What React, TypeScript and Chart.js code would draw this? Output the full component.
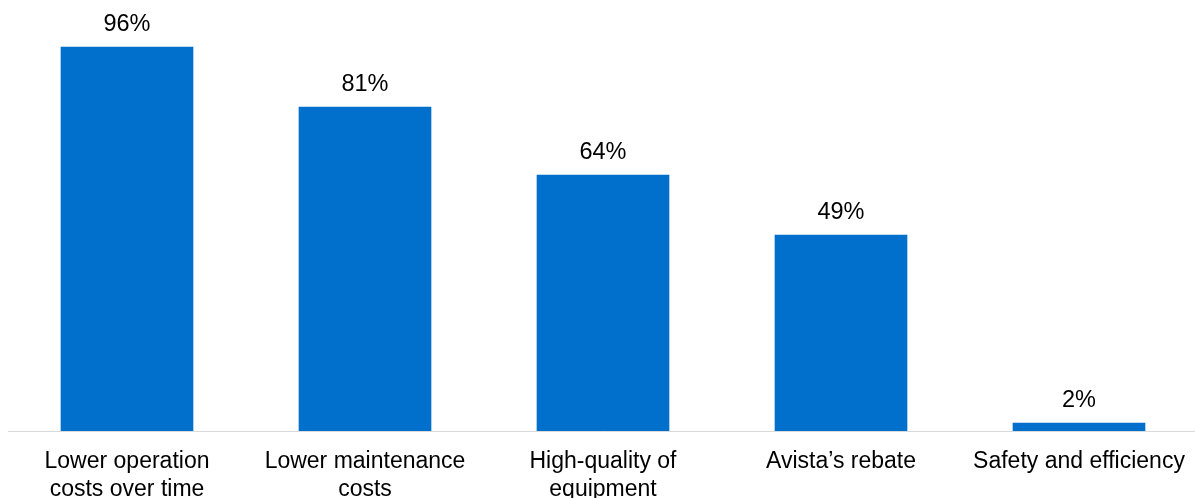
import React, { useEffect, useRef } from "react";
import { Chart, registerables } from "chart.js";

Chart.register(...registerables);

const categories: string[][] = [
  ["Lower operation", "costs over time"],
  ["Lower maintenance", "costs"],
  ["High-quality of", "equipment"],
  ["Avista\u2019s rebate"],
  ["Safety and efficiency"],
];
const shares: number[] = [96, 81, 64, 49, 2];

const BAR_BLUE = "#0070CC";
const FONT = "'Liberation Sans', Arial, sans-serif";

// Writes each bar's percentage just above its top edge.
const valueLabels = {
  id: "valueLabels",
  afterDatasetsDraw(chart: any) {
    const { ctx } = chart;
    const meta = chart.getDatasetMeta(0);
    ctx.save();
    ctx.font = `23.5px ${FONT}`;
    ctx.fillStyle = "#000";
    ctx.textAlign = "center";
    ctx.textBaseline = "alphabetic";
    meta.data.forEach((bar: any, i: number) => {
      ctx.fillText(`${shares[i]}%`, bar.x, bar.y - 16);
    });
    ctx.restore();
  },
};

export default function App() {
  const canvasRef = useRef<HTMLCanvasElement | null>(null);

  useEffect(() => {
    const canvas = canvasRef.current;
    if (!canvas) return;
    const chart = new Chart(canvas, {
      type: "bar",
      data: {
        labels: categories,
        datasets: [
          {
            data: shares,
            backgroundColor: BAR_BLUE,
            borderWidth: 0,
            barThickness: 132,
          },
        ],
      },
      options: {
        animation: false,
        responsive: false,
        maintainAspectRatio: false,
        layout: { padding: { top: 31, left: 8, right: 0, bottom: 0 } },
        plugins: {
          legend: { display: false },
          tooltip: { enabled: false },
        },
        scales: {
          x: {
            grid: { display: false, drawTicks: false },
            border: { display: true, color: "#d9d9d9", width: 1 },
            ticks: {
              color: "#000",
              font: { family: FONT, size: 23, lineHeight: 1.25 },
              padding: 16,
              maxRotation: 0,
              autoSkip: false,
            },
            afterFit(scale: any) {
              scale.height = 67;
              scale.paddingLeft = 0;
              scale.paddingRight = 0;
            },
          },
          y: {
            display: false,
            min: 0,
            max: 100,
          },
        },
      },
      plugins: [valueLabels],
    });
    return () => chart.destroy();
  }, []);

  return (
    <div
      style={{
        position: "fixed",
        left: 0,
        top: 0,
        width: 1195,
        height: 498,
        overflow: "hidden",
        background: "#fff",
      }}
    >
      <canvas
        ref={canvasRef}
        width={1198}
        height={498}
        style={{ display: "block", width: 1198, height: 498 }}
      />
    </div>
  );
}
